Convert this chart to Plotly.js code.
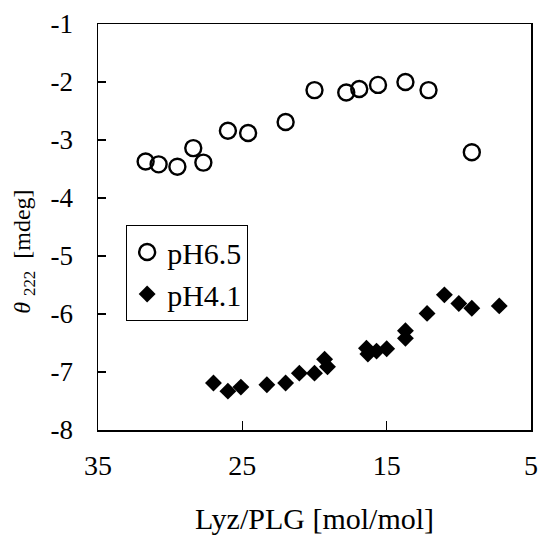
<!DOCTYPE html>
<html>
<head>
<meta charset="utf-8">
<script src="https://cdn.plot.ly/plotly-3.0.1.min.js"></script>
<style>html,body{margin:0;padding:0;background:#fff;}#chart{width:539px;height:547px;}</style>
</head>
<body>
<div id="chart"></div>
<script>
// pH 6.5 (open circles)
const ph65X = [31.7, 30.8, 29.5, 28.4, 27.7, 26.0, 24.6, 22.0, 20.0, 17.8, 16.9, 15.6, 13.7, 12.1, 9.1];
const ph65Y = [-3.37, -3.42, -3.46, -3.14, -3.39, -2.84, -2.88, -2.69, -2.14, -2.18, -2.12, -2.05, -2.00, -2.14, -3.21];
// pH 4.1 (filled diamonds)
const ph41X = [27.0, 26.0, 25.1, 23.3, 22.0, 21.05, 20.0, 19.3, 19.1, 16.4, 16.3, 15.7, 15.0, 13.7, 13.7, 12.2, 11.0, 10.0, 9.1, 7.2];
const ph41Y = [-7.19, -7.33, -7.26, -7.22, -7.19, -7.02, -7.02, -6.78, -6.91, -6.59, -6.69, -6.64, -6.60, -6.29, -6.42, -5.99, -5.67, -5.82, -5.90, -5.86];
const seriesNames = ['pH6.5', 'pH4.1'];
const xTicks = [35, 25, 15, 5];
const yTicks = [-1, -2, -3, -4, -5, -6, -7, -8];

const serif = 'Liberation Serif, Times New Roman, serif';

const traces = [
  {
    x: ph65X, y: ph65Y, name: seriesNames[0], type: 'scatter', mode: 'markers',
    marker: {symbol: 'circle-open', size: 16, color: '#000', line: {width: 2.4, color: '#000'}}
  },
  {
    x: ph41X, y: ph41Y, name: seriesNames[1], type: 'scatter', mode: 'markers',
    marker: {symbol: 'diamond', size: 13, color: '#000', line: {width: 0}}
  }
];

const layout = {
  width: 539, height: 547,
  margin: {l: 98, r: 8, t: 24, b: 117},
  paper_bgcolor: '#fff', plot_bgcolor: '#fff',
  font: {family: serif, color: '#000', size: 27},
  showlegend: true,
  legend: {
    x: 0.065, xanchor: 'left', y: 0.505, yanchor: 'top',
    bgcolor: '#fff', bordercolor: '#000', borderwidth: 1,
    font: {family: serif, size: 30, color: '#000'},
    itemwidth: 30, tracegroupgap: 0
  },
  xaxis: {
    range: [35, 5], autorange: false,
    tickmode: 'array', tickvals: xTicks, ticktext: xTicks.map(String),
    ticks: 'inside', ticklen: 9, tickwidth: 1.2, tickcolor: '#000',
    showline: true, linecolor: '#000', linewidth: 1.5, mirror: true,
    showgrid: false, zeroline: false,
    ticklabelstandoff: 10,
    tickfont: {family: serif, size: 28, color: '#000'},
    title: {text: 'Lyz/PLG [mol/mol]', font: {family: serif, size: 30, color: '#000'}, standoff: 28}
  },
  yaxis: {
    range: [-8, -1], autorange: false,
    tickmode: 'array', tickvals: yTicks, ticktext: yTicks.map(String),
    ticks: 'inside', ticklen: 8, tickwidth: 1.2, tickcolor: '#000',
    showline: true, linecolor: '#000', linewidth: 1.5, mirror: true,
    showgrid: false, zeroline: false,
    ticklabelstandoff: 18,
    tickfont: {family: serif, size: 27, color: '#000'}
  },
  annotations: [{
    text: '<i>θ</i> <sub>222</sub>  [mdeg]',
    xref: 'paper', yref: 'paper', x: -0.17, y: 0.44,
    xanchor: 'center', yanchor: 'middle', textangle: -90, showarrow: false,
    font: {family: serif, size: 24, color: '#000'}
  }]
};

Plotly.newPlot('chart', traces, layout, {displayModeBar: false, staticPlot: true});
</script>
</body>
</html>
